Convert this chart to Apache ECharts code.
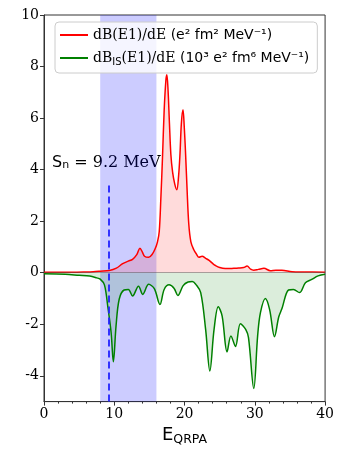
<!DOCTYPE html>
<html><head><meta charset="utf-8">
<script src="https://cdn.jsdelivr.net/npm/echarts@6/dist/echarts.min.js"></script>
<style>html,body{margin:0;padding:0;background:#fff}#c{width:337px;height:451px}</style>
</head><body><div id="c"></div>
<script>
// dB(E1)/dE  (E in MeV, value)
const redE = [0,4,6,7,8,9.3,10.3,11.2,12.0,12.6,13.2,13.65,14.0,14.3,14.9,15.4,15.8,16.15,16.4,16.63,16.86,17.1,17.34,17.48,17.65,17.85,18.05,18.3,18.6,18.9,19.15,19.35,19.55,19.78,19.95,20.15,20.35,20.6,20.9,21.3,21.7,22.05,22.5,23.0,23.5,24.0,24.4,25.0,25.8,27.0,27.7,28.4,28.9,29.4,29.85,30.5,31.3,32.2,33.0,33.85,35.3,37,40];
const redV = [0.02,0.02,0.03,0.04,0.06,0.09,0.18,0.35,0.45,0.52,0.7,0.95,0.8,0.64,0.6,0.72,0.92,1.2,1.6,2.9,4.45,6.3,7.45,7.68,7.1,5.8,4.6,3.9,3.45,3.22,3.75,4.6,5.8,6.32,5.7,4.6,3.3,1.9,1.2,0.9,0.72,0.6,0.64,0.56,0.48,0.36,0.28,0.2,0.16,0.17,0.18,0.2,0.26,0.14,0.1,0.13,0.17,0.08,0.1,0.1,0.04,0.03,0.02];
// dB_IS(E1)/dE
const greenE = [0,3,5,6.5,7.5,8.0,8.6,9.07,9.55,9.87,10.25,10.7,11.4,12.0,12.6,13.45,14.05,14.9,15.7,16.5,17.1,17.8,18.5,19.05,19.8,20.5,21.1,21.6,22.3,23.0,23.6,24.2,24.8,25.35,26.05,26.6,27.25,27.95,28.7,29.1,29.85,30.4,30.8,31.5,32.1,32.8,33.4,33.85,34.8,35.5,36.35,37.2,38.1,39.0,40];
const greenV = [-0.04,-0.06,-0.1,-0.13,-0.2,-0.25,-0.47,-1.3,-2.32,-3.45,-2.07,-1.03,-0.67,-0.65,-0.9,-0.52,-0.84,-0.45,-0.62,-1.23,-0.65,-0.47,-0.6,-0.88,-0.5,-0.36,-0.34,-0.45,-0.77,-2.2,-3.81,-2.2,-1.32,-1.68,-3.07,-2.45,-2.86,-1.98,-2.2,-2.52,-4.49,-2.45,-1.55,-1.0,-1.42,-2.48,-1.72,-1.4,-0.67,-0.65,-0.77,-0.39,-0.26,-0.12,-0.06];
const xTicks = [0,10,20,30,40];
const yTicks = [-4,-2,0,2,4,6,8,10];
const band = [8,16];
const snE = 9.2;
const snTop = 3.5;
const yMin = -5, yMax = 10;

const zip = (a,b) => a.map((v,i)=>[v,b[i]]);
const chart = echarts.init(document.getElementById('c'), null, {renderer:'canvas'});
const serif = 'DejaVu Serif';
const sans = 'DejaVu Sans';
chart.setOption({
  animation:false,
  grid:{left:44,right:10,top:15,bottom:48.5,show:true,borderColor:'#333',borderWidth:1,backgroundColor:'transparent'},
  legend:{
    orient:'vertical',left:55,top:22,padding:[6,8,6,5],itemGap:9,itemWidth:28,itemHeight:2,
    backgroundColor:'rgba(255,255,255,0.8)',borderColor:'#ccc',borderWidth:1,borderRadius:4,
    icon:'rect',
    data:['red','green'],
    formatter:function(n){
      if(n==='red') return '{a|dB(E1)/dE }{u|(e² fm² MeV⁻¹)}';
      return '{a|dB}{s|IS}{a|(E1)/dE }{u|(10³ e² fm⁶ MeV⁻¹)}';
    },
    textStyle:{rich:{
      a:{fontFamily:serif,fontSize:14,color:'#000',lineHeight:18},
      u:{fontFamily:sans,fontSize:14,color:'#000',lineHeight:18},
      s:{fontFamily:sans,fontSize:10,color:'#000',verticalAlign:'bottom',lineHeight:14}
    }}
  },
  xAxis:{type:'value',min:0,max:40,
    axisLine:{show:true,onZero:false,lineStyle:{color:'#333'}},
    axisTick:{show:true,inside:false,length:4,customValues:xTicks,lineStyle:{color:'#333'}},
    minorTick:{show:true,splitNumber:5,length:2,lineStyle:{color:'#333'}},
    axisLabel:{customValues:xTicks,fontFamily:serif,fontSize:14,color:'#000',margin:6},
    splitLine:{show:false},
    name:'{e|E}{s|QRPA}',nameLocation:'middle',nameGap:22,
    nameTextStyle:{rich:{e:{fontFamily:sans,fontSize:18,color:'#000'},s:{fontFamily:sans,fontSize:12.5,color:'#000',verticalAlign:'bottom',padding:[8,0,0,0]}}}
  },
  yAxis:{type:'value',min:yMin,max:yMax,
    axisLine:{show:true,onZero:false,lineStyle:{color:'#333'}},
    axisTick:{show:true,length:4,customValues:yTicks,lineStyle:{color:'#333'}},
    axisLabel:{customValues:yTicks,fontFamily:serif,fontSize:14,color:'#000',margin:5},
    splitLine:{show:false}
  },
  graphic:[{type:'text',left:52,top:155,style:{
    text:'{s|S}{n|n}{t| = 9.2 MeV}',
    rich:{s:{fontFamily:sans,fontSize:16,fill:'#000'},n:{fontFamily:sans,fontSize:11,fill:'#000',verticalAlign:'bottom'},t:{fontFamily:serif,fontSize:16,fill:'#000'}}
  }}],
  series:[
    {name:'band',type:'line',data:[],silent:true,
      markArea:{silent:true,itemStyle:{color:'rgba(0,0,255,0.2)'},data:[[{xAxis:band[0]},{xAxis:band[1]}]]}},
    {name:'red',type:'line',data:zip(redE,redV),smooth:0.35,showSymbol:false,
      lineStyle:{color:'#ff0000',width:1.5},itemStyle:{color:'#ff0000'},
      areaStyle:{color:'rgba(255,0,0,0.2)',origin:0},z:3},
    {name:'green',type:'line',data:zip(greenE,greenV),smooth:0.35,showSymbol:false,
      lineStyle:{color:'#008000',width:1.5},itemStyle:{color:'#008000'},
      areaStyle:{color:'rgba(0,128,0,0.2)',origin:0},z:3,
      markLine:{silent:true,symbol:'none',label:{show:false},
        data:[
          [{coord:[snE,yMin],lineStyle:{color:'#2222ff',width:1.8,type:[7,4]}},{coord:[snE,snTop]}],
          [{coord:[0,0],lineStyle:{color:'rgba(80,80,80,0.6)',width:0.8,type:'solid'}},{coord:[40,0]}]
        ]}}
  ]
});
</script></body></html>
